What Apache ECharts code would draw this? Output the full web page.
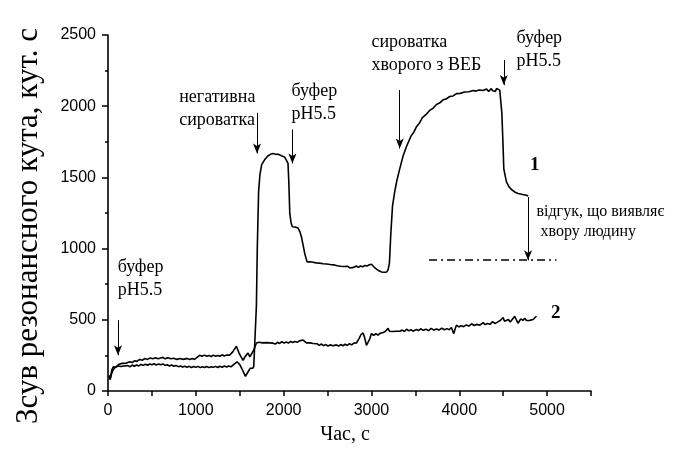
<!DOCTYPE html>
<html><head><meta charset="utf-8">
<script src="https://cdn.jsdelivr.net/npm/echarts@6/dist/echarts.min.js"></script>
<style>html,body{margin:0;padding:0;background:#fff}#c{width:677px;height:455px}</style>
</head><body><div id="c"></div>
<script>
// Curve 1: time (s), resonance angle shift (arc s)
const curve1 = [[10,105],[25,80],[40,120],[60,150],[70,140],[80,165],[90,152],[100,160],[115,175],[130,165],[145,172],[160,162],[180,176],[200,168],[225,178],[250,170],[275,182],[300,174],[325,183],[350,176],[375,186],[400,180],[425,188],[450,181],[475,190],[500,184],[525,191],[550,183],[575,189],[600,184],[625,190],[650,180],[675,184],[700,176],[725,182],[750,174],[775,179],[800,171],[825,176],[850,168],[875,174],[900,167],[925,173],[950,165],[975,172],[1000,166],[1025,173],[1050,164],[1075,171],[1100,165],[1125,172],[1150,164],[1175,171],[1200,166],[1225,173],[1250,165],[1275,174],[1300,167],[1325,175],[1350,168],[1375,176],[1400,170],[1420,180],[1440,190],[1470,205],[1500,185],[1530,150],[1565,103],[1590,130],[1620,160],[1640,172],[1650,160],[1660,175],[1675,185],[1690,600],[1700,1000],[1715,1400],[1730,1520],[1750,1590],[1785,1625],[1820,1650],[1850,1662],[1865,1672],[1880,1668],[1895,1676],[1910,1663],[1925,1670],[1940,1662],[1955,1668],[1975,1652],[1990,1656],[2010,1644],[2032,1620],[2050,1598],[2060,1450],[2070,1247],[2085,1180],[2100,1153],[2115,1142],[2130,1152],[2150,1138],[2164,1144],[2185,1120],[2203,1082],[2220,1030],[2240,966],[2267,907],[2285,898],[2300,908],[2320,896],[2335,904],[2355,892],[2370,900],[2390,890],[2410,898],[2430,886],[2450,894],[2470,882],[2490,892],[2510,880],[2530,888],[2550,876],[2570,886],[2590,872],[2610,880],[2630,866],[2650,876],[2670,864],[2690,874],[2710,866],[2730,876],[2753,864],[2775,874],[2800,868],[2825,878],[2850,868],[2875,878],[2900,872],[2925,882],[2950,878],[2975,886],[3000,890],[3020,880],[3040,864],[3060,856],[3080,846],[3100,852],[3115,836],[3130,850],[3145,834],[3160,848],[3175,836],[3190,852],[3205,900],[3220,1100],[3240,1300],[3265,1400],[3290,1480],[3322,1560],[3360,1650],[3398,1715],[3450,1790],[3480,1815],[3512,1855],[3545,1880],[3580,1920],[3620,1940],[3664,1971],[3700,1985],[3740,2012],[3775,2022],[3815,2045],[3850,2050],[3890,2068],[3930,2072],[3968,2088],[4010,2090],[4060,2100],[4110,2102],[4157,2110],[4190,2106],[4230,2114],[4270,2110],[4310,2120],[4335,2104],[4350,2112],[4365,2124],[4380,2108],[4395,2118],[4410,2104],[4425,2124],[4440,2116],[4461,2113],[4475,2100],[4485,1950],[4499,1715],[4507,1560],[4520,1520],[4537,1469],[4565,1435],[4594,1415],[4630,1398],[4670,1387],[4720,1380],[4765,1375],[4783,1368]];
// Curve 2
const curve2 = [[10,110],[25,90],[45,150],[60,170],[76,181],[90,168],[100,178],[120,186],[140,180],[160,194],[180,188],[209,196],[230,192],[250,206],[275,200],[300,212],[330,208],[361,222],[390,216],[420,228],[450,222],[480,232],[510,226],[540,233],[570,226],[600,232],[626,236],[650,226],[680,234],[715,226],[750,230],[785,222],[820,228],[860,222],[900,229],[930,222],[960,228],[985,222],[1007,230],[1044,251],[1070,244],[1100,252],[1125,244],[1150,250],[1175,242],[1200,252],[1225,244],[1250,250],[1275,244],[1300,254],[1325,246],[1350,252],[1370,244],[1386,252],[1420,275],[1462,314],[1490,270],[1510,245],[1538,216],[1565,245],[1595,267],[1615,240],[1633,228],[1659,286],[1680,300],[1690,337],[1705,328],[1720,342],[1740,330],[1760,338],[1780,326],[1800,340],[1820,330],[1840,338],[1860,328],[1880,336],[1905,330],[1930,342],[1955,334],[1980,346],[2005,336],[2030,344],[2055,336],[2080,348],[2105,340],[2130,348],[2155,342],[2180,352],[2200,344],[2221,358],[2240,344],[2260,338],[2280,330],[2300,338],[2320,326],[2335,334],[2355,324],[2380,332],[2405,320],[2430,330],[2455,318],[2480,326],[2505,316],[2530,324],[2550,312],[2563,318],[2585,314],[2600,324],[2625,316],[2650,326],[2675,318],[2700,328],[2725,320],[2750,332],[2775,324],[2800,336],[2829,337],[2860,370],[2880,395],[2904,408],[2920,380],[2943,321],[2965,325],[2980,365],[3000,403],[3025,390],[3050,402],[3075,392],[3100,406],[3115,396],[3132,410],[3160,420],[3175,410],[3189,440],[3205,420],[3220,428],[3240,418],[3260,430],[3280,420],[3300,432],[3325,420],[3350,428],[3375,418],[3400,434],[3425,422],[3450,430],[3475,420],[3512,433],[3535,424],[3560,437],[3590,426],[3620,434],[3650,424],[3680,440],[3710,428],[3740,436],[3770,428],[3800,442],[3830,430],[3860,438],[3885,430],[3911,446],[3937,403],[3955,440],[3968,462],[3995,450],[4020,458],[4050,452],[4080,464],[4110,456],[4140,472],[4170,460],[4200,468],[4235,462],[4271,480],[4295,466],[4320,474],[4350,468],[4380,487],[4405,474],[4430,482],[4450,476],[4470,497],[4499,516],[4515,490],[4537,476],[4560,502],[4580,484],[4600,492],[4632,525],[4650,500],[4670,476],[4700,507],[4725,496],[4746,511],[4765,495],[4780,490],[4803,496],[4820,508],[4840,502],[4860,516],[4879,525]];

// Event arrows: [time, from value, to value]
const arrows = [[114,497,251],[1697,1954,1668],[2100,1837,1598],[3322,2113,1703],[4507,2324,2148],[4783,1363,918]];
// Reference level line (dash-dot): [from time, to time, value]
const refLine = [3656, 5107, 923];
// Annotation texts: [time, value, text, kind]
const notes = [
  [112, 785, 'буфер\npH5.5', 'n'],
  [811, 1985, 'негативна\nсироватка', 'n'],
  [2089, 2025, 'буфер\npH5.5', 'n'],
  [3000, 2371, 'сироватка\nхворого з ВЕБ', 'n'],
  [4651, 2394, 'буфер\npH5.5', 'n'],
  [4879, 1188, 'відгук, що виявляє\n хвору людину', 's'],
  [4860, 1587, '1', 'b'],
  [5099, 546, '2', 'b']
];
const xTicks = [0,1000,2000,3000,4000,5000];

const chart = echarts.init(document.getElementById('c'), null, {renderer:'canvas'});
const axisCommon = {
  axisLine:{show:true,onZero:false,lineStyle:{color:'#000',width:1.6}},
  axisTick:{show:true,inside:false,length:5,lineStyle:{color:'#000',width:1.5}},
  splitLine:{show:false},
  axisLabel:{color:'#000',fontSize:16,fontFamily:'"Liberation Sans", Arial, sans-serif',margin:12}
};
const markLineData = arrows.map(a => [
  {coord:[a[0],a[1]], symbol:'none'},
  {coord:[a[0],a[2]], symbol:'arrow', symbolSize:[6,10]}
]);
markLineData.push([
  {coord:[refLine[0],refLine[2]], symbol:'none', lineStyle:{type:[8,4,2,4],width:1.5,color:'#000'}},
  {coord:[refLine[1],refLine[2]], symbol:'none'}
]);
chart.setOption({
  animation:false,
  backgroundColor:'#fff',
  grid:{left:108,top:35,right:86,bottom:64,containLabel:false},
  xAxis:Object.assign({type:'value',min:0,max:5500,interval:500}, axisCommon, {
    axisLabel:Object.assign({}, axisCommon.axisLabel, {formatter:v => xTicks.includes(v) ? String(v) : ''})
  }),
  yAxis:Object.assign({type:'value',min:0,max:2500,interval:500}, axisCommon, {
    axisLabel:Object.assign({}, axisCommon.axisLabel, {formatter:v => String(v)}),
    axisTick:{show:true,inside:false,length:6,lineStyle:{color:'#000',width:1.5}},
    minorTick:{show:true,splitNumber:2,length:3,lineStyle:{color:'#000',width:1.5}},
    minorSplitLine:{show:false}
  }),
  series:[
    {type:'line',data:curve1,showSymbol:false,symbol:'none',lineStyle:{color:'#000',width:1.6},
     markLine:{silent:true,animation:false,symbol:['none','arrow'],label:{show:false},
       lineStyle:{color:'#000',width:1,type:'solid'},emphasis:{disabled:true},data:markLineData}},
    {type:'line',data:curve2,showSymbol:false,symbol:'none',lineStyle:{color:'#000',width:1.6}}
  ]
});
const graphics = notes.map(n => {
  const p = chart.convertToPixel({gridIndex:0}, [n[0], n[1]]);
  const isB = n[3] === 'b';
  return {type:'text', x:p[0], y:p[1], silent:true,
    style:{text:n[2], fill:'#000',
      font: isB ? 'bold 19px "Liberation Serif", serif' : (n[3]==='s' ? '16px "Liberation Serif", serif' : '18px "Liberation Serif", serif'),
      lineHeight: n[3]==='s' ? 20 : 23,
      align: isB ? 'center' : 'left', verticalAlign:'middle'}};
});
graphics.push({type:'text', x:29, y:226, rotation:Math.PI/2, silent:true,
  style:{text:'Зсув резонансного кута, кут. с', fill:'#000', font:'31px "Liberation Serif", serif', align:'center', verticalAlign:'middle'}});
graphics.push({type:'text', x:345, y:435, silent:true,
  style:{text:'Час, с', fill:'#000', font:'20px "Liberation Serif", serif', align:'center', verticalAlign:'middle'}});
chart.setOption({graphic:graphics});
</script>
</body></html>
